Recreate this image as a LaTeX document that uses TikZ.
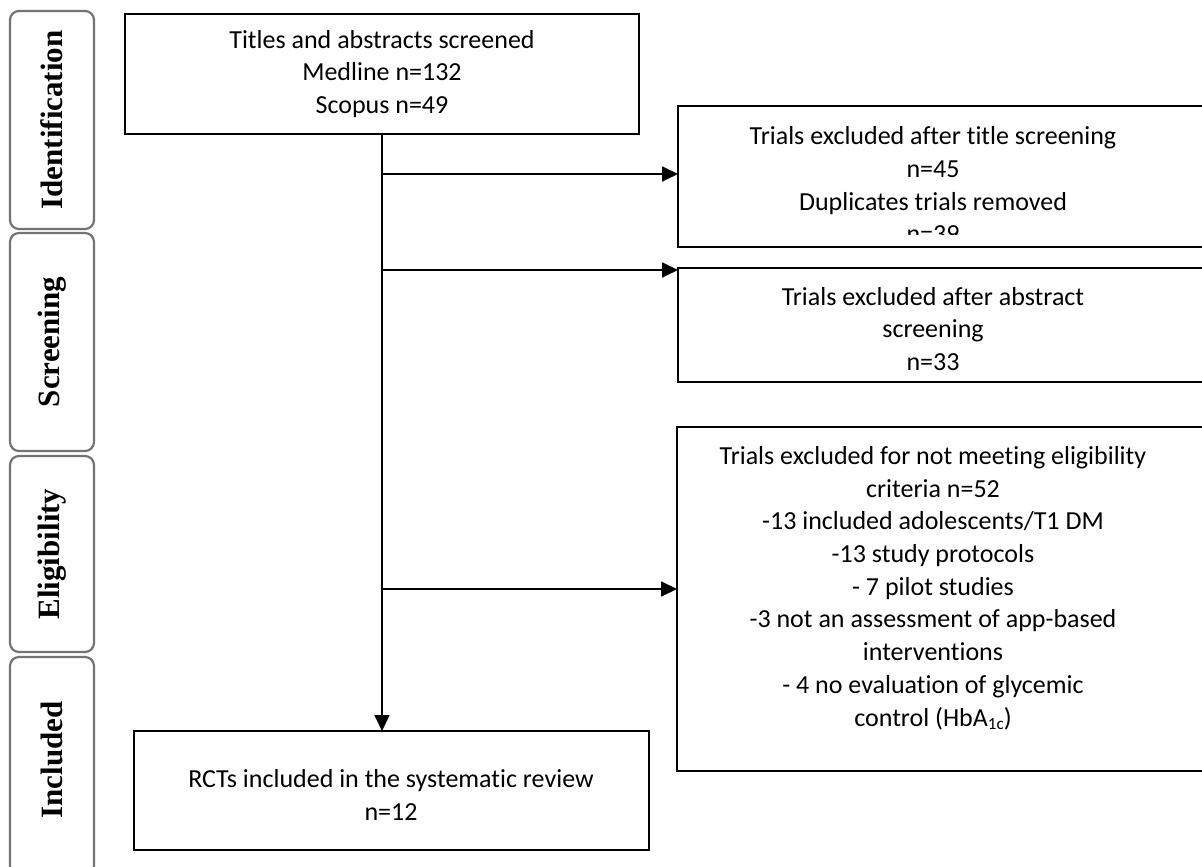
\documentclass[tikz,border=0pt]{standalone}
\usepackage{fontspec}
\setmainfont{Carlito}[Ligatures=CommonOff]
\newfontfamily\labelfont{Liberation Serif}
\usetikzlibrary{arrows.meta}
\begin{document}
\begin{tikzpicture}[x=1pt,y=-1pt,
  box/.style={draw, line width=1.6pt, inner sep=0pt, outer sep=0pt, anchor=north west},
  txt/.style={align=center, inner sep=0pt, font=\fontsize{26}{32.7}\selectfont},
  labbox/.style={draw=black!55, line width=2.2pt, rounded corners=9pt, rotate=90,
    minimum height=84pt, inner sep=0pt, outer sep=0pt},
  labtxt/.style={rotate=90, inner sep=0pt, font=\labelfont\bfseries\fontsize{31}{31}\selectfont},
  arr/.style={line width=1.8pt, -{Triangle[length=16pt,width=15pt]}}]
\useasboundingbox (0,0) rectangle (1202,867);
\clip (0,0) rectangle (1202,867);

% stage labels
\node[labbox, minimum width=218pt] (ident) at (52,120) {};
\node[labtxt] (identt) at (ident.center) {Identification};
\node[labbox, minimum width=218pt] (screen) at (52,342) {};
\node[labtxt] (screent) at (screen.center) {Screening};
\node[labbox, minimum width=196pt] (elig) at (52,554) {};
\node[labtxt] (eligt) at (elig.center) {Eligibility};
\node[labbox, minimum width=222pt] (incl) at (52,768) {};
\node[labtxt] (inclt) at (52,760) {Included};

% main boxes
\node[box, minimum width=514pt, minimum height=120pt] (top) at (125,14) {};
\node[txt] (ttop) at (top.center) {Titles and abstracts screened\\Medline n=132\\Scopus n=49};

\node[box, minimum width=515pt, minimum height=119pt] (bot) at (134,731) {};
\node[txt] (tbot) at (391,795) {RCTs included in the systematic review\\n=12};

% exclusion boxes
\node[box, minimum width=537pt, minimum height=141pt] (box1) at (678,106) {};
\begin{scope}
  \clip (678,106) rectangle (1202,234);
  \node[txt] (t1) at (933,185) {Trials excluded after title screening\\n=45\\Duplicates trials removed\\n=39};
\end{scope}

\node[box, minimum width=537pt, minimum height=114pt] (box2) at (678,268) {};
\node[txt] (t2) at (933,329) {Trials excluded after abstract\\screening\\n=33};

\node[box, minimum width=538pt, minimum height=344pt] (box3) at (677,427) {};
\node[txt] (t3) at (933,588) {Trials excluded for not meeting eligibility\\criteria n=52\\-13 included adolescents/T1 DM\\-13 study protocols\\- 7 pilot studies\\-3 not an assessment of app-based\\interventions\\- 4 no evaluation of glycemic\\control (HbA{\fontsize{17}{17}\selectfont\raisebox{-3pt}{1c}})};

% connectors
\coordinate (j1) at (382,174);
\coordinate (j2) at (382,270);
\coordinate (j3) at (382,589);
\draw[arr] (top.south) -- (top.south |- bot.north);
\draw[arr] (j1) -- (j1 -| box1.west);
\draw[arr] (j2) -- (j2 -| box2.west);
\draw[arr] (j3) -- (j3 -| box3.west);
\end{tikzpicture}
\end{document}
